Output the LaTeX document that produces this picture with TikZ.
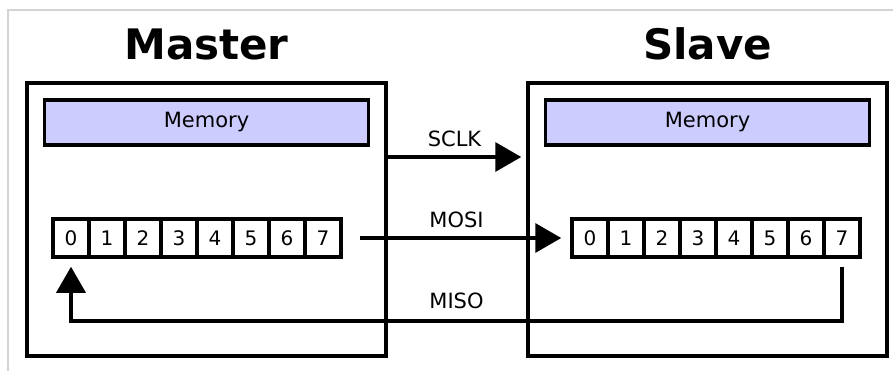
\documentclass[tikz,border=0pt]{standalone}
\usepackage{fontspec}
\setmainfont{DejaVu Sans}
\usepackage{xcolor}
\usetikzlibrary{arrows.meta, positioning, calc}

\definecolor{memfill}{HTML}{CCCCFF}
\definecolor{framegray}{HTML}{D4D4D4}

\begin{document}
\begin{tikzpicture}[x=1pt, y=1pt, line width=3.5pt,
    unit/.style={rectangle, draw, minimum width=359pt, minimum height=273pt},
    mem/.style={rectangle, draw, fill=memfill, minimum width=324pt, minimum height=45pt, font=\fontsize{21}{25}\selectfont},
    bit/.style={rectangle, draw, minimum width=36pt, minimum height=38pt, inner sep=0pt, font=\fontsize{20}{24}\selectfont},
    title/.style={inner sep=0pt, outer sep=0pt, font=\bfseries\fontsize{42}{50}\selectfont},
    sig/.style={-{Triangle[length=26pt, width=29pt]}},
    siglabel/.style={inner sep=0pt, outer sep=0pt, font=\fontsize{21}{25}\selectfont}]

    \useasboundingbox (0,0) rectangle (893,-371);
    \draw[framegray, line width=2pt] (8,-371) -- (8,-10) -- (893,-10);

    % the two devices
    \node (master) [unit] at (206.5,-219.5) {};
    \node (slave) [unit] at (707.5,-219.5) {};
    \node (mtitle) [title, above=21.5pt of master.north] {Master};
    \node (stitle) [title, above=21.5pt of slave.north] {Slave};

    \node (mmem) [mem, below=17pt of master.north] {Memory};
    \node (smem) [mem, below=17pt of slave.north] {Memory};

    % shift registers
    \foreach \i in {0,...,7} {
        \node (m\i) [bit] at (71+36*\i,-238) {\i};
        \node (s\i) [bit] at (590+36*\i,-238) {\i};
    }

    \draw[sig] ([yshift=62.5pt]master.east) -- node[siglabel, above=10pt] {SCLK} ([yshift=62.5pt, xshift=-5pt]slave.west);
    \draw[sig, shorten <=17pt, shorten >=9pt] (m7.east) -- node[siglabel, above=10pt] {MOSI} (s0.west);
    \draw[sig, shorten <=8pt, shorten >=8pt] (s7.south) -- ++(0,-62) -| node[siglabel, pos=0.25, above=12pt] {MISO} (m0.south);
\end{tikzpicture}
\end{document}
